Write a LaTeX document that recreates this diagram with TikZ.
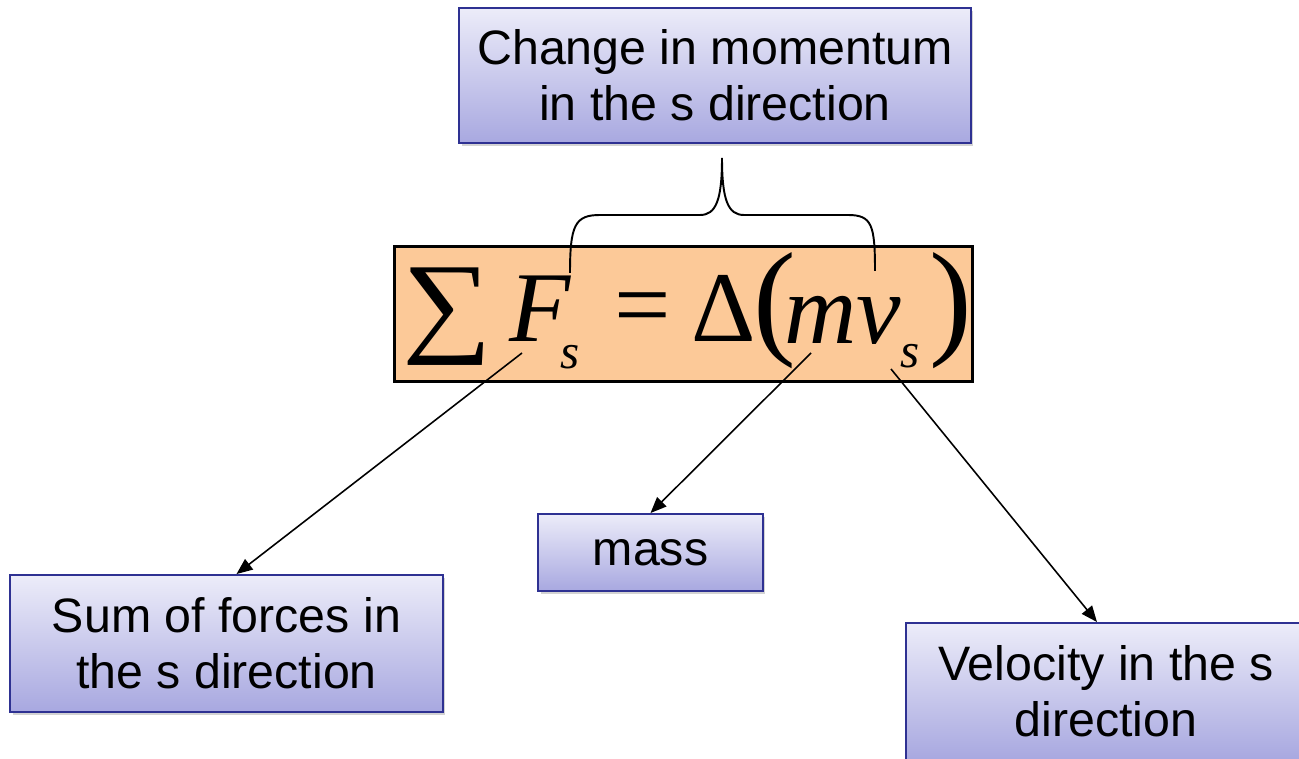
\documentclass[tikz,border=0pt]{standalone}
\usepackage{fontspec}
\setmainfont{Liberation Sans}
\newfontfamily\eqfont{Liberation Serif}
\usetikzlibrary{arrows.meta, shadows}
\definecolor{boxBlue}{RGB}{46, 49, 146}
\definecolor{boxTop}{RGB}{236, 236, 249}
\definecolor{boxBottom}{RGB}{168, 168, 224}
\definecolor{eqOrange}{RGB}{252, 201, 152}

\begin{document}
\begin{tikzpicture}[
  x=0.02cm, y=-0.02cm,
  labelbox/.style={rectangle, draw=boxBlue, line width=1.1pt, top color=boxTop, bottom color=boxBottom,
                   drop shadow={shadow xshift=0.05cm, shadow yshift=-0.06cm, opacity=0.35},
                   align=center, inner sep=0pt, font=\fontsize{27.5}{32}\selectfont},
  eqbox/.style={rectangle, draw=black, line width=1.7pt, fill=eqOrange,
                minimum width=11.58cm, minimum height=2.72cm},
  glyph/.style={inner sep=0pt, font=\eqfont\itshape\fontsize{57}{57}\selectfont},
  upglyph/.style={inner sep=0pt, font=\eqfont\fontsize{57}{57}\selectfont},
  subglyph/.style={inner sep=0pt, font=\eqfont\itshape\fontsize{28}{28}\selectfont},
  pointer/.style={-{Triangle[length=0.32cm, width=0.26cm]}, line width=0.9pt},
  brace/.style={line width=1.1pt}
]
  \useasboundingbox (0,0) rectangle (1299,759);

  % Equation
  \node[eqbox] (eq) at (683.5,314) {};
  \node[upglyph, font=\eqfont\fontsize{64}{64}\selectfont] (sum) at (447,317) {\scalebox{1.12}[1]{∑}};
  \node[glyph] (force) at (540,309) {F};
  \node[subglyph] (fsub) at (570,357) {s};
  \node[upglyph] (equals) at (643,316) {=};
  \node[upglyph] (delta) at (724,308) {Δ};
  \node[upglyph, font=\eqfont\fontsize{73}{73}\selectfont] (lpar) at (775,311) {(};
  \node[glyph] (mv) at (843,320) {mv};
  \node[subglyph] (vsub) at (910,356) {s};
  \node[upglyph, font=\eqfont\fontsize{73}{73}\selectfont] (rpar) at (951,311) {)};

  % Labels
  \node[labelbox, minimum width=10.24cm, minimum height=2.7cm] (change) at (715,75.5) {Change in momentum\\in the s direction};
  \node[labelbox, minimum width=8.66cm, minimum height=2.74cm] (sumf) at (226.5,643.5) {Sum of forces in\\the s direction};
  \node[labelbox, minimum width=4.5cm, minimum height=1.54cm] (mass) at (650.5,552.5) {mass};
  \node[labelbox, minimum width=8cm, minimum height=2.74cm] (vel) at (1106,691.5) {Velocity in the s\\direction};

  % Brace
  \draw[brace] (570,273) .. controls (570,225) and (575,215) .. (600,215) -- (700,215)
    .. controls (716,215) and (722,200) .. (722,158)
    .. controls (722,200) and (728,215) .. (744,215) -- (848,215)
    .. controls (872,215) and (875,225) .. (875,271);

  % Arrows
  \coordinate (fstart) at (522,353);
  \coordinate (mstart) at (811,353);
  \coordinate (vstart) at (891,369);
  \draw[pointer] (fstart) -- ([xshift=0.2cm]sumf.north);
  \draw[pointer] (mstart) -- (mass.north);
  \draw[pointer] (vstart) -- ([xshift=-0.18cm]vel.north);
\end{tikzpicture}
\end{document}
